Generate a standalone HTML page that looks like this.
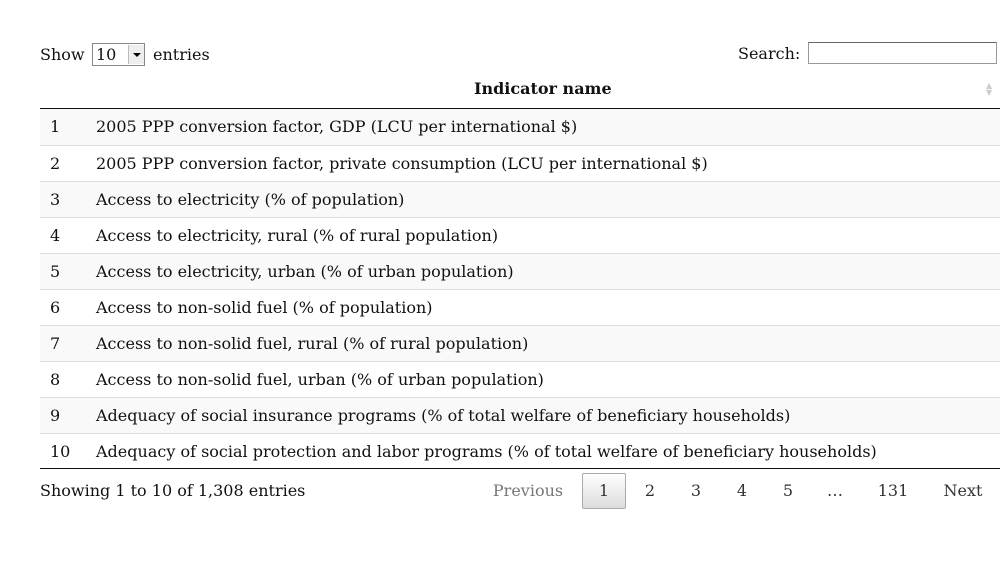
<!DOCTYPE html>
<html><head><meta charset="utf-8"><style>
body{margin:0;width:1000px;height:584px;background:#fff;font-family:"DejaVu Serif","Liberation Serif",serif;font-size:16px;color:#111;position:relative;overflow:hidden}
.a{position:absolute;white-space:nowrap}
.row{position:absolute;left:40px;width:960px;height:36px;border-top:1px solid #ddd;box-sizing:border-box}
.row span{position:absolute;top:8px}
.pg{position:absolute;top:481px;transform:translateX(-50%);color:#333}
</style></head><body>
<div class="a" style="left:40px;top:45px">Show</div>
<div class="a" style="left:92px;top:43px;width:51px;height:21px;border:1px solid #888;background:#fff;font-size:16px;line-height:21px"><span style="padding-left:3px">10</span><div style="position:absolute;right:0;top:1px;width:15px;height:19px;background:#eee;border-left:1px solid #bbb"><div style="position:absolute;left:4px;top:8px;border-left:4px solid transparent;border-right:4px solid transparent;border-top:4px solid #000"></div></div></div>
<div class="a" style="left:153px;top:45px">entries</div>
<div class="a" style="left:738px;top:44px">Search:</div>
<div class="a" style="left:808px;top:42px;width:187px;height:20px;border:1px solid #999;border-top-color:#666"></div>
<div class="a" style="left:474px;top:79px;font-weight:bold">Indicator name</div>
<div class="a" style="left:986px;top:82px;font-size:8px;line-height:7px;color:#ccc">▲<br>▼</div>
<div class="a" style="left:40px;top:108px;width:960px;height:1px;background:#111"></div>
<div id="rows"></div>
<div class="a" style="left:40px;top:468px;width:960px;height:1px;background:#111"></div>
<div class="a" style="left:40px;top:481px">Showing 1 to 10 of 1,308 entries</div>
<div class="pg" style="left:528px;color:#777">Previous</div>
<div class="a" style="left:582px;top:473px;width:42px;height:34px;border:1px solid #aaa;border-radius:2px;background:linear-gradient(#fff,#ddd)"></div>
<div class="pg" style="left:604px">1</div>
<div class="pg" style="left:650px">2</div>
<div class="pg" style="left:696px">3</div>
<div class="pg" style="left:742px">4</div>
<div class="pg" style="left:788px">5</div>
<div class="pg" style="left:835px">…</div>
<div class="pg" style="left:893px">131</div>
<div class="pg" style="left:963px">Next</div>
<script>
const names=["2005 PPP conversion factor, GDP (LCU per international $)","2005 PPP conversion factor, private consumption (LCU per international $)","Access to electricity (% of population)","Access to electricity, rural (% of rural population)","Access to electricity, urban (% of urban population)","Access to non-solid fuel (% of population)","Access to non-solid fuel, rural (% of rural population)","Access to non-solid fuel, urban (% of urban population)","Adequacy of social insurance programs (% of total welfare of beneficiary households)","Adequacy of social protection and labor programs (% of total welfare of beneficiary households)"];
const c=document.getElementById('rows');
names.forEach((n,i)=>{
const r=document.createElement('div');r.className='row';


r.style.top=(109+i*36)+'px';
if(i%2==0)r.style.background='#f9f9f9';
if(i==0)r.style.borderTop='none';
r.innerHTML='<span style="left:10px">'+(i+1)+'</span><span style="left:56px">'+n+'</span>';
c.appendChild(r);});
</script>
</body></html>
